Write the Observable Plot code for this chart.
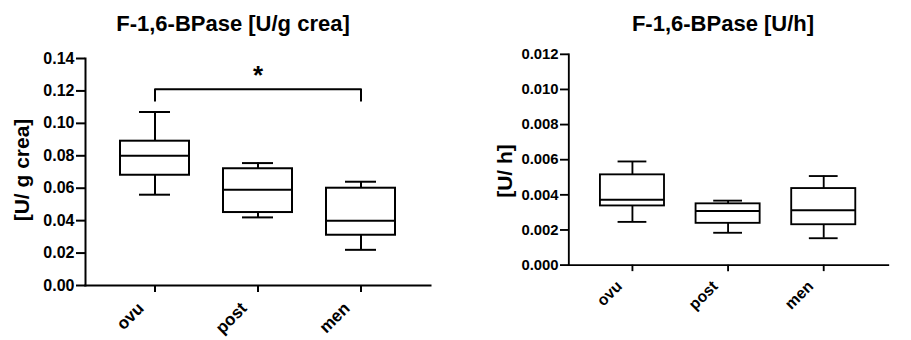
<!DOCTYPE html>
<html>
<head>
<meta charset="utf-8">
<script src="https://cdn.jsdelivr.net/npm/d3@7"></script>
<script src="https://cdn.jsdelivr.net/npm/@observablehq/plot@0.6"></script>
<style>
  html, body { margin: 0; padding: 0; background: #fff; overflow: hidden; }
  #wrap { position: relative; width: 911px; height: 340px; overflow: hidden; font-family: "Liberation Sans", Arial, sans-serif; }
  .panel { position: absolute; top: 0; }
  .title { position: absolute; font-weight: bold; font-size: 22px; white-space: nowrap; transform: translate(-50%, -50%); color: #000; }
  .ytitle { position: absolute; font-weight: bold; font-size: 21px; white-space: nowrap; transform: translate(-50%, -50%) rotate(-90deg); color: #000; }
</style>
</head>
<body>
<div id="wrap">
  <div class="panel" id="left" style="left:0px;"></div>
  <div class="panel" id="right" style="left:456px;"></div>
  <div class="title" style="left:233px; top:24px;">F-1,6-BPase [U/g crea]</div>
  <div class="title" style="left:723px; top:24px;">F-1,6-BPase [U/h]</div>
  <div class="ytitle" style="left:22px; top:170px;">[U/ g crea]</div>
  <div class="ytitle" style="left:505px; top:171px;">[U/ h]</div>
</div>
<script>
// ---- data ----
const categories = ["ovu", "post", "men"];

// Panel 1: F-1,6-BPase [U/g crea]
const creaMin    = [0.056, 0.042, 0.022];
const creaQ1     = [0.068, 0.045, 0.031];
const creaMedian = [0.080, 0.059, 0.040];
const creaQ3     = [0.089, 0.072, 0.060];
const creaMax    = [0.107, 0.0755, 0.064];
const creaTicks  = [0.00, 0.02, 0.04, 0.06, 0.08, 0.10, 0.12, 0.14];
const creaDomain = [0, 0.14];

// significance bracket (panel 1)
const bracketFrom = "ovu";
const bracketMid = "post";
const bracketTo = "men";
const bracketTop = 0.121;
const bracketEnd = 0.114;
const bracketLabel = "*";
const bracketLabelY = 0.1295;

// Panel 2: F-1,6-BPase [U/h]
const hourMin    = [0.00246, 0.00184, 0.00153];
const hourQ1     = [0.00337, 0.00238, 0.00230];
const hourMedian = [0.00372, 0.00308, 0.00312];
const hourQ3     = [0.00514, 0.00349, 0.00436];
const hourMax    = [0.00590, 0.00367, 0.00507];
const hourTicks  = [0.000, 0.002, 0.004, 0.006, 0.008, 0.010, 0.012];
const hourDomain = [0, 0.012];

function rows(mins, q1s, meds, q3s, maxs) {
  return categories.map((c, i) => ({cat: c, min: mins[i], q1: q1s[i], med: meds[i], q3: q3s[i], max: maxs[i]}));
}

function boxPanel({data, domain, ticks, fmt, marginLeft, width, extra = []}) {
  return Plot.plot({
    width,
    height: 340,
    marginLeft,
    marginRight: 25,
    marginTop: 58,
    marginBottom: 55,
    style: {fontFamily: "'Liberation Sans', Arial, sans-serif", fontSize: "16px", fontWeight: "bold", color: "#000", background: "transparent", overflow: "visible"},
    x: {domain: categories, padding: 0.33, label: null},
    y: {domain, label: null},
    marks: [
      Plot.axisY({ticks, tickFormat: fmt, tickSize: 9, tickPadding: 2, strokeWidth: 2, label: null, fontSize: 16, fontWeight: "bold"}),
      Plot.axisX({tickSize: 7, tickFormat: () => "", strokeWidth: 2, label: null}),
      Plot.text(categories, {x: d => d, text: d => d, frameAnchor: "bottom", rotate: -45, textAnchor: "end", lineAnchor: "middle", dx: -14, dy: 20, fontSize: 17, fontWeight: "bold", fill: "#000"}),
      Plot.ruleX(data, {x: "cat", y1: "q3", y2: "max", stroke: "#000", strokeWidth: 2}),
      Plot.ruleX(data, {x: "cat", y1: "min", y2: "q1", stroke: "#000", strokeWidth: 2}),
      Plot.tickY(data, {x: "cat", y: "max", stroke: "#000", strokeWidth: 2, insetLeft: 19, insetRight: 19}),
      Plot.tickY(data, {x: "cat", y: "min", stroke: "#000", strokeWidth: 2, insetLeft: 19, insetRight: 19}),
      Plot.barY(data, {x: "cat", y1: "q1", y2: "q3", fill: "#fff", stroke: "#000", strokeWidth: 2}),
      Plot.tickY(data, {x: "cat", y: "med", stroke: "#000", strokeWidth: 2}),
      ...extra,
      Plot.frame({anchor: "left", stroke: "#000", strokeWidth: 2}),
      Plot.frame({anchor: "bottom", stroke: "#000", strokeWidth: 2})
    ]
  });
}

const bracketPts = [
  {cat: bracketFrom, v: bracketEnd},
  {cat: bracketFrom, v: bracketTop},
  {cat: bracketTo, v: bracketTop},
  {cat: bracketTo, v: bracketEnd}
];

const left = boxPanel({
  data: rows(creaMin, creaQ1, creaMedian, creaQ3, creaMax),
  domain: creaDomain,
  ticks: creaTicks,
  fmt: d3.format(".2f"),
  marginLeft: 85,
  width: 455,
  extra: [
    Plot.line(bracketPts, {x: "cat", y: "v", stroke: "#000", strokeWidth: 2}),
    Plot.text([bracketLabel], {x: () => bracketMid, y: () => bracketLabelY, text: d => d, fontSize: 26, fontWeight: "bold", fill: "#000"})
  ]
});

const right = boxPanel({
  data: rows(hourMin, hourQ1, hourMedian, hourQ3, hourMax),
  domain: hourDomain,
  ticks: hourTicks,
  fmt: d3.format(".3f"),
  marginLeft: 121,
  width: 490
});

document.getElementById("left").appendChild(left);
document.getElementById("right").appendChild(right);
</script>
</body>
</html>
